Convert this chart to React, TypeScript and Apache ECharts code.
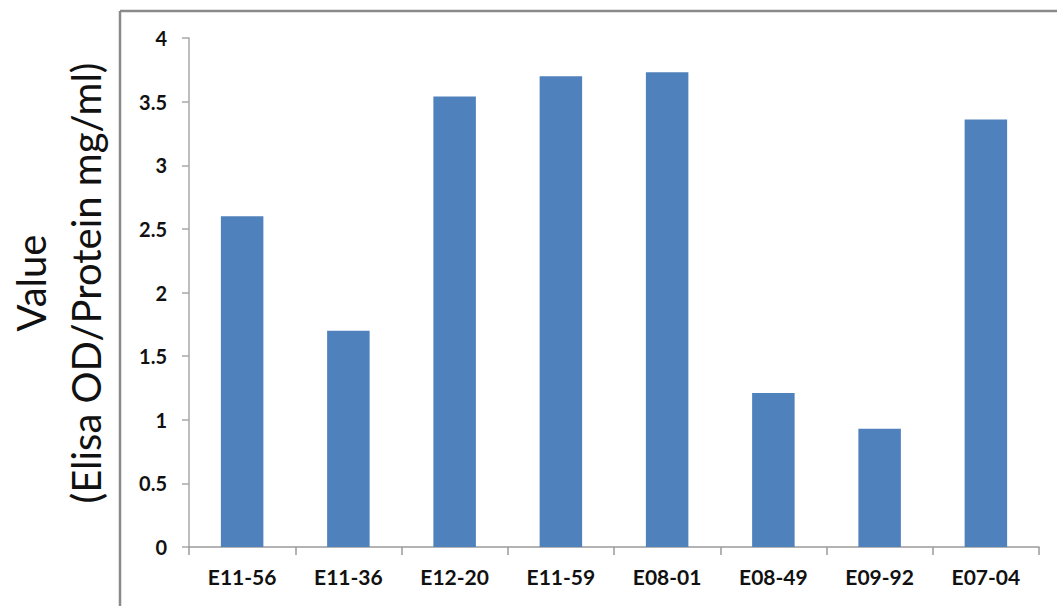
import React, { useEffect, useRef } from "react";
import * as echarts from "echarts";

const categories = ["E11-56", "E11-36", "E12-20", "E11-59", "E08-01", "E08-49", "E09-92", "E07-04"];
const values = [2.6, 1.7, 3.54, 3.7, 3.73, 1.21, 0.93, 3.36];
const yTicks = { min: 0, max: 4, interval: 0.5 };
const yTitle = "Value\n(Elisa OD/Protein mg/ml)";

export default function App() {
  const ref = useRef<HTMLDivElement>(null);
  useEffect(() => {
    const chart = echarts.init(ref.current!, null, { renderer: "svg" });
    chart.setOption({
      animation: false,
      backgroundColor: "#ffffff",
      grid: { left: 189, right: 18, top: 38, bottom: 59 },
      xAxis: {
        type: "category",
        data: categories,
        axisLine: { lineStyle: { color: "#9a9a9a", width: 1.5 } },
        axisTick: { show: true, length: 8, lineStyle: { color: "#9a9a9a", width: 1.5 } },
        axisLabel: {
          margin: 19,
          color: "#111",
          fontFamily: "Lato",
          fontWeight: "bold",
          fontSize: 21,
        },
      },
      yAxis: {
        type: "value",
        min: yTicks.min,
        max: yTicks.max,
        interval: yTicks.interval,
        splitLine: { show: false },
        axisLine: { show: true, lineStyle: { color: "#a8a8a8", width: 1.5 } },
        axisTick: { show: true, length: 7, lineStyle: { color: "#a8a8a8", width: 1.5 } },
        axisLabel: {
          margin: 22,
          color: "#111",
          fontFamily: "Lato",
          fontWeight: "bold",
          fontSize: 20,
        },
      },
      graphic: [
        { type: "line", shape: { x1: 120, y1: 11, x2: 1057, y2: 11 }, style: { stroke: "#8a8a8a", lineWidth: 2.5 } },
        { type: "line", shape: { x1: 120, y1: 11, x2: 120, y2: 606 }, style: { stroke: "#8a8a8a", lineWidth: 2.5 } },
        {
          type: "text",
          x: 58,
          y: 283,
          rotation: Math.PI / 2,
          style: {
            text: yTitle,
            fontFamily: "Lato",
            fontSize: 40,
            lineHeight: 55,
            fill: "#111",
            textAlign: "center",
            textVerticalAlign: "middle",
          },
        },
      ],
      series: [
        {
          type: "bar",
          data: values,
          barWidth: "40%",
          itemStyle: { color: "#4f81bd" },
        },
      ],
    });
    return () => chart.dispose();
  }, []);
  return <div ref={ref} style={{ position: "absolute", left: 0, top: 0, width: 1057, height: 606 }} />;
}
